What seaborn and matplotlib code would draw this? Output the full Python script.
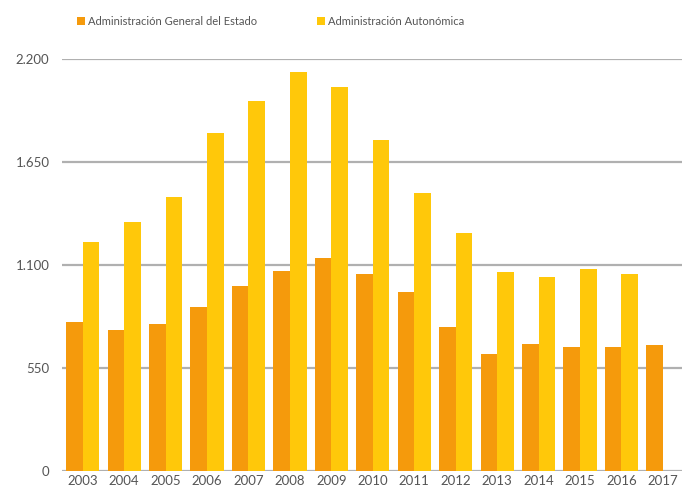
import pandas as pd
import numpy as np
import matplotlib.pyplot as plt
import seaborn as sns

# data
years = ['2003', '2004', '2005', '2006', '2007', '2008', '2009', '2010',
         '2011', '2012', '2013', '2014', '2015', '2016', '2017']
estado = [795, 753, 785, 877, 989, 1069, 1136, 1050, 957, 767, 623, 678, 664, 660, 673]
autonomica = [1221, 1331, 1464, 1806, 1975, 2129, 2049, 1770, 1486, 1272, 1064, 1037, 1077, 1052, np.nan]

series_names = ['Administración General del Estado', 'Administración Autonómica']
colors = ['#F59A0C', '#FFC80A']
y_ticks = [0, 550, 1100, 1650, 2200]
y_tick_labels = ['0', '550', '1.100', '1.650', '2.200']

df = pd.DataFrame({
    'year': years * 2,
    'value': estado + autonomica,
    'serie': [series_names[0]] * len(years) + [series_names[1]] * len(years),
})

sns.set_theme(style='white')
plt.rcParams['font.family'] = ['Lato', 'DejaVu Sans']

fig = plt.figure(figsize=(6.82, 4.94), dpi=100)
ax = fig.add_axes([62 / 682, 1 - 471 / 494, 620 / 682, 412 / 494])

sns.barplot(data=df, x='year', y='value', hue='serie', palette=colors,
            width=0.8, saturation=1, linewidth=0, ax=ax, zorder=3)

ax.set_ylim(0, 2200)
ax.set_xlim(-0.5, 14.46)
ax.set_yticks(y_ticks)
ax.set_yticklabels(y_tick_labels)
ax.yaxis.grid(True, color='#b0b0b0', linewidth=1.6, zorder=0)
ax.set_axisbelow(True)
ax.tick_params(axis='both', length=0, labelsize=9.5, labelcolor='#555555')
ax.tick_params(axis='y', pad=9)
ax.tick_params(axis='x', pad=3)
ax.set_xlabel('')
ax.set_ylabel('')
for s in ax.spines.values():
    s.set_visible(False)

handles, labels = ax.get_legend_handles_labels()
ax.legend(handles, labels, ncol=2, frameon=False, loc='center left',
          bbox_to_anchor=(5 / 620, 1 + 38 / 412), fontsize=8,
          handlelength=0.7, handleheight=0.7, handletextpad=0.3,
          columnspacing=5.4, labelcolor='#555555')

fig.savefig('out.png', dpi=100)
